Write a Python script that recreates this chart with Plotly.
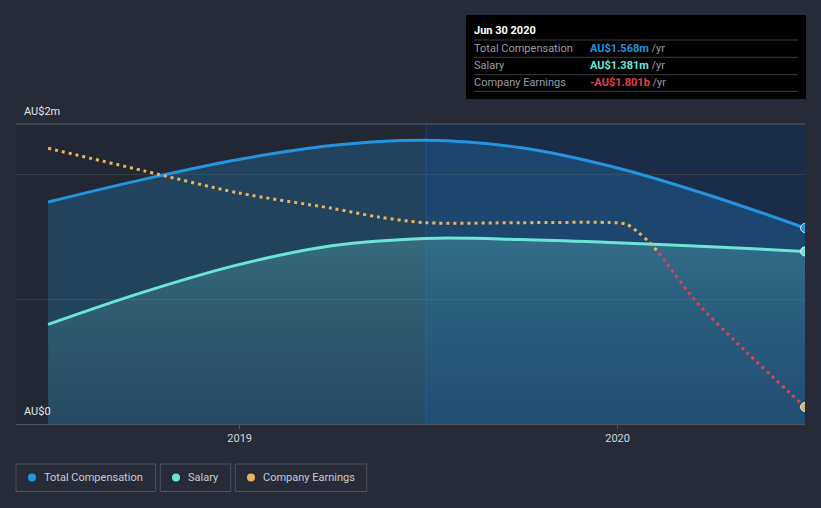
import plotly.graph_objects as go

# ---------------- data ----------------
comp_dates = ["2018-06-30", "2018-09-30", "2018-12-31", "2019-03-31", "2019-06-30",
              "2019-09-30", "2019-12-31", "2020-03-31", "2020-06-30"]
total_comp = [1.776, 1.957, 2.116, 2.228, 2.270, 2.210, 2.050, 1.826, 1.568]   # AU$ m
salary = [0.797, 1.055, 1.275, 1.426, 1.485, 1.476, 1.450, 1.419, 1.381]       # AU$ m

earn_pos_dates = ["2018-06-30", "2018-09-30", "2018-12-31", "2019-03-31", "2019-05-15",
                  "2019-06-30", "2019-09-30", "2019-12-31", "2020-01-10", "2020-01-21",
                  "2020-01-31", "2020-02-09", "2020-02-10"]
earn_pos = [1.225, 0.963, 0.702, 0.523, 0.421, 0.354, 0.355, 0.354, 0.336, 0.242,
            0.132, 0.015, 0.0]                                                # AU$ b
earn_neg_dates = ["2020-02-10", "2020-02-17", "2020-03-17", "2020-05-04", "2020-06-30"]
earn_neg = [0.0, -0.113, -0.570, -1.154, -1.801]                               # AU$ b

x_ticks = ["2019-01-01", "2020-01-01"]
x_tick_labels = ["2019", "2020"]
y_label_top = "AU$2m"
y_label_bottom = "AU$0"
series_names = ["Total Compensation", "Salary", "Company Earnings"]
tooltip_date = "Jun 30 2020"

# ---------------- styling ----------------
BG = "#262b37"
C_TOTAL = "#2394df"
C_SAL = "#6ce5d6"
C_EARN = "#e9b35f"
C_NEG = "#e0424f"
FONT = "Roboto"

W, H = 821, 508
L, R, T, B = 16, 805, 124, 424


def pxx(x):
    return (x - L) / (R - L)


def pxy(y):
    return (B - y) / (B - T)


fig = go.Figure()

# total compensation area + line
fig.add_trace(go.Scatter(
    x=comp_dates, y=total_comp, mode="lines", line=dict(color=C_TOTAL, width=3, shape="spline"),
    fill="tozeroy", fillcolor="rgba(35,148,223,0.25)", hoverinfo="skip", showlegend=False))
# salary area + line
fig.add_trace(go.Scatter(
    x=comp_dates, y=salary, mode="lines", line=dict(color=C_SAL, width=3, shape="spline"),
    fill="tozeroy",
    fillgradient=dict(type="vertical",
                      colorscale=[[0, "rgba(70,150,160,0.10)"], [1, "rgba(100,200,200,0.30)"]]),
    hoverinfo="skip", showlegend=False))

# earnings (secondary axis)
fig.add_trace(go.Scatter(
    x=earn_pos_dates, y=earn_pos, yaxis="y2", mode="lines",
    line=dict(color=C_EARN, width=3, dash="3px,4px", shape="spline", smoothing=0.8),
    hoverinfo="skip", showlegend=False))
fig.add_trace(go.Scatter(
    x=earn_neg_dates, y=earn_neg, yaxis="y2", mode="lines",
    line=dict(color=C_NEG, width=3, dash="3px,4px", shape="spline", smoothing=0.8),
    hoverinfo="skip", showlegend=False))

# end markers
fig.add_trace(go.Scatter(x=[comp_dates[-1]], y=[total_comp[-1]], mode="markers",
                         marker=dict(size=9, color=C_TOTAL, line=dict(color="#cfe6f7", width=1)),
                         hoverinfo="skip", showlegend=False))
fig.add_trace(go.Scatter(x=[comp_dates[-1]], y=[salary[-1]], mode="markers",
                         marker=dict(size=9, color=C_SAL, line=dict(color="#dff8f5", width=1)),
                         hoverinfo="skip", showlegend=False))
fig.add_trace(go.Scatter(x=[earn_neg_dates[-1]], y=[earn_neg[-1]], yaxis="y2", mode="markers",
                         marker=dict(size=9, color="#d6b07a", line=dict(color="#f3e6d2", width=1)),
                         hoverinfo="skip", showlegend=False))

shapes = []
# highlighted last-year region
shapes.append(dict(type="rect", xref="x", yref="paper", x0="2019-06-30", x1="2020-06-30",
                   y0=0, y1=1, fillcolor="rgba(12,55,125,0.30)", line=dict(width=0), layer="below"))
shapes.append(dict(type="line", xref="x", yref="paper", x0="2019-06-30", x1="2019-06-30",
                   y0=0, y1=1, line=dict(color="rgba(40,100,180,0.35)", width=1), layer="below"))
# top frame line
shapes.append(dict(type="line", xref="paper", yref="paper", x0=0, x1=1, y0=1, y1=1,
                   line=dict(color="#555b67", width=1)))

# tooltip box
shapes.append(dict(type="rect", xref="paper", yref="paper", x0=pxx(466), x1=pxx(806),
                   y0=pxy(99), y1=pxy(15), fillcolor="#000000", line=dict(width=0)))
for sy in [40, 57.3, 74.7, 91.3]:
    shapes.append(dict(type="line", xref="paper", yref="paper", x0=pxx(474), x1=pxx(798),
                       y0=pxy(sy), y1=pxy(sy), line=dict(color="#3b3d42", width=1)))

annotations = []


def txt(x, y, s, color, size=11, anchor="left"):
    annotations.append(dict(xref="paper", yref="paper", x=pxx(x - 2), y=pxy(y), text=s,
                            showarrow=False, xanchor=anchor, yanchor="middle",
                            font=dict(family=FONT, size=size, color=color)))


txt(474, 30.5, "<b>" + tooltip_date + "</b>", "#ffffff")
rows = [
    (series_names[0], 48.5, "AU$%.3fm" % total_comp[-1], C_TOTAL),
    (series_names[1], 65.5, "AU$%.3fm" % salary[-1], C_SAL),
    (series_names[2], 82.5, "-AU$%.3fb" % abs(earn_neg[-1]), C_NEG),
]
for name, yy, val, col in rows:
    txt(474, yy, name, "#9a9ea6")
    txt(590, yy, "<span style='color:%s'><b>%s</b></span> /yr" % (col, val), "#9a9ea6")

# y labels
txt(24, 112, y_label_top, "#e3e6ea")
txt(24, 411, y_label_bottom, "#e3e6ea")

# legend boxes
legend_items = [(16, 155.7, 32, 44.3, series_names[0], C_TOTAL),
                (160.3, 230.7, 176, 188.3, series_names[1], C_SAL),
                (235.3, 366.7, 251, 263.3, series_names[2], C_EARN)]
for x0, x1, cx, tx, name, col in legend_items:
    shapes.append(dict(type="rect", xref="paper", yref="paper", x0=pxx(x0), x1=pxx(x1),
                       y0=pxy(491.5), y1=pxy(464), line=dict(color="#4d535f", width=1),
                       fillcolor="rgba(0,0,0,0)"))
    shapes.append(dict(type="circle", xref="paper", yref="paper", x0=pxx(cx - 4), x1=pxx(cx + 4),
                       y0=pxy(477.5 + 4), y1=pxy(477.5 - 4), fillcolor=col, line=dict(width=0)))
    txt(tx, 477.5, name, "#c9ccd2")

fig.update_layout(
    width=W, height=H,
    margin=dict(l=L, r=W - R, t=T, b=H - B),
    paper_bgcolor=BG, plot_bgcolor="#222833",
    font=dict(family=FONT, size=11, color="#d4d7dc"),
    showlegend=False,
    shapes=shapes, annotations=annotations,
    xaxis=dict(type="date", range=["2018-05-30", "2020-06-30"], tickvals=x_ticks,
               ticktext=x_tick_labels, ticks="outside", ticklen=4, tickcolor="#4d5361",
               showgrid=False, showline=True, linecolor="#4d5361", linewidth=1,
               zeroline=False, tickfont=dict(family=FONT, size=11, color="#d4d7dc"),
               fixedrange=True),
    yaxis=dict(range=[0, 2.4], tickvals=[1, 2], showticklabels=False, showgrid=True,
               gridcolor="#363c48", gridwidth=1, zeroline=False, fixedrange=True),
    yaxis2=dict(range=[-2.0, 1.509], overlaying="y", visible=False, fixedrange=True),
    hovermode=False,
)

fig.write_html("out.html", config={"displayModeBar": False, "staticPlot": True},
               post_script="document.body.style.margin='0';document.body.style.padding='0';"
                           "document.body.style.background='%s';document.body.style.overflow='hidden';" % BG)
